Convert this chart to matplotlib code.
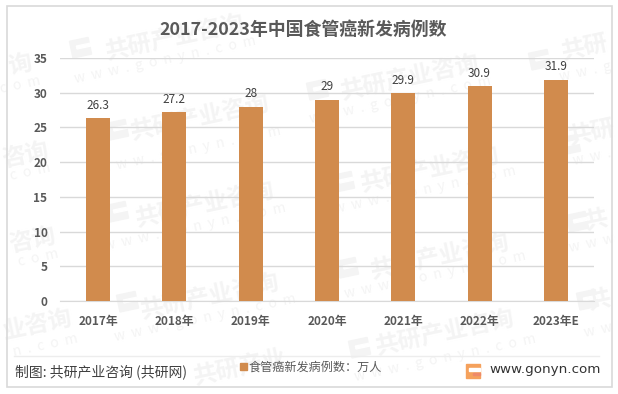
# chart of esophageal cancer cases in China, gonyn style
import matplotlib
matplotlib.use('Agg')
import matplotlib.pyplot as plt
from matplotlib.patches import Rectangle
from matplotlib.transforms import IdentityTransform

plt.rcParams['font.family'] = ['Noto Sans CJK SC', 'DejaVu Sans']

years = ['2017年', '2018年', '2019年', '2020年', '2021年', '2022年', '2023年E']
cases = [26.3, 27.2, 28, 29, 29.9, 30.9, 31.9]
value_labels = ['26.3', '27.2', '28', '29', '29.9', '30.9', '31.9']
y_ticks = [0, 5, 10, 15, 20, 25, 30, 35]

W, H = 618, 394
BAR = '#D18B4D'
GREY = '#595959'
MARK = '#F4F4F4'
URL = 'w  w  w  .  g  o  n  y  n  .  c  o  m'

# watermark pieces in pixels from the top left: (x, y, text)
# the ones at the frame edges only keep the characters that show
mark_names = [(175, 38, '共研产业咨询'), (200, 118, '共研产业咨询'), (205, 205, '共研产业咨询'),
              (210, 297, '共研产业咨询'), (240, 368, '共研产业'), (410, 78, '共研产业咨询'),
              (430, 170, '共研产业咨询'), (440, 257, '共研产业咨询'), (445, 333, '共研产业咨询'),
              (20, 65, '询'), (25, 155, '咨询'), (32, 240, '咨询'), (38, 325, '业咨询'),
              (585, 48, '共研'), (592, 133, '共研'), (597, 220, '共'), (600, 300, '共')]
mark_urls = [(165, 60, URL), (190, 150, URL), (195, 227, URL), (205, 318, URL),
             (400, 100, URL), (425, 190, URL), (435, 275, URL), (445, 358, URL),
             (20, 85, 'c  o  m'), (30, 172, 'c  o  m'), (38, 258, 'c  o  m'), (45, 345, 'n  .  c  o  m'),
             (585, 72, 'w  w  .  g'), (592, 157, 'w  w  .'), (592, 243, 'w  w  w'), (598, 330, 'w  w')]
mark_logos = [(73, 58), (110, 140), (110, 222), (120, 312),
              (310, 100), (336, 192), (340, 278), (352, 358),
              (532, 70), (562, 155), (570, 232), (580, 310)]


def px(x, y):
    return x / W, 1 - y / H


fig = plt.figure(figsize=(W / 100, H / 100), dpi=100)

# outer frame
fig.add_artist(Rectangle(px(6.5, 386.5), 605 / W, 381 / H, fill=False,
                         edgecolor='#D9D9D9', linewidth=1.2, zorder=5))

# watermarks go under the chart
for x, y, s in mark_names:
    fx, fy = px(x, y)
    fig.text(fx, fy, s, fontsize=17, fontweight='bold', color=MARK,
             rotation=12, ha='center', va='center', zorder=0)
for x, y, s in mark_urls:
    fx, fy = px(x, y)
    fig.text(fx, fy, s, fontsize=10, color=MARK,
             rotation=12, ha='center', va='center', zorder=0)
for x, y in mark_logos:
    fig.add_artist(Rectangle((x, H - y), 19, 17, angle=12, color=MARK,
                             transform=IdentityTransform(), zorder=0))
    fig.add_artist(Rectangle((x + 4, H - y + 9), 15, 3, angle=12, color='white',
                             transform=IdentityTransform(), zorder=0))

ax = fig.add_axes([60 / W, 1 - 301 / H, 534 / W, 243 / H])
ax.set_zorder(1)
ax.patch.set_alpha(0)
ax.bar(years, cases, width=0.316, color=BAR, zorder=3, label='食管癌新发病例数：万人')
for i, v in enumerate(cases):
    ax.text(i, v + 0.9, value_labels[i], ha='center', va='bottom', fontsize=8.5,
            color='#404040', zorder=4)

ax.set_xlim(-0.5, 6.5)
ax.set_ylim(0, 35)
ax.set_yticks(y_ticks)
ax.grid(axis='y', color='#D9D9D9', linewidth=1, zorder=1)
ax.tick_params(length=0, labelsize=8.5, labelcolor=GREY)
ax.tick_params(axis='x', pad=10)
ax.tick_params(axis='y', pad=9)
for label in ax.get_xticklabels() + ax.get_yticklabels():
    label.set_fontweight('bold')
for name in ['top', 'left', 'right']:
    ax.spines[name].set_visible(False)
ax.spines['bottom'].set_color('#D9D9D9')

fx, fy = px(303, 30)
fig.text(fx, fy, '2017-2023年中国食管癌新发病例数', fontsize=12.9, fontweight='bold',
         color=GREY, ha='center', va='center', zorder=6)

# footer
fig.add_artist(plt.Line2D([14 / W, 599 / W], [1 - 355.5 / H] * 2, color='#EDEDED', linewidth=1, zorder=5))
fx, fy = px(15, 372)
fig.text(fx, fy, '制图: 共研产业咨询 (共研网)', fontsize=10, color='#404040', va='center', zorder=6)
fig.add_artist(Rectangle(px(240, 370), 7 / W, 7 / H, color=BAR, zorder=5))
fx, fy = px(249, 367)
fig.text(fx, fy, '食管癌新发病例数：万人', fontsize=8.7, color=GREY, va='center', zorder=6)

# logo
fig.add_artist(Rectangle(px(466, 378), 14 / W, 14 / H, color='#F5A15C', zorder=5))
fig.add_artist(Rectangle(px(469, 370.5), 11 / W, 3 / H, color='white', zorder=6))
fig.add_artist(Rectangle(px(473, 375), 7 / W, 2 / H, color='#EE8A6A', zorder=6))
fx, fy = px(489, 370)
fig.text(fx, fy, 'www.gonyn.com', fontsize=9.7, color='#333333', va='center',
         family='DejaVu Sans', zorder=6)

fig.savefig('out.png', dpi=100)
